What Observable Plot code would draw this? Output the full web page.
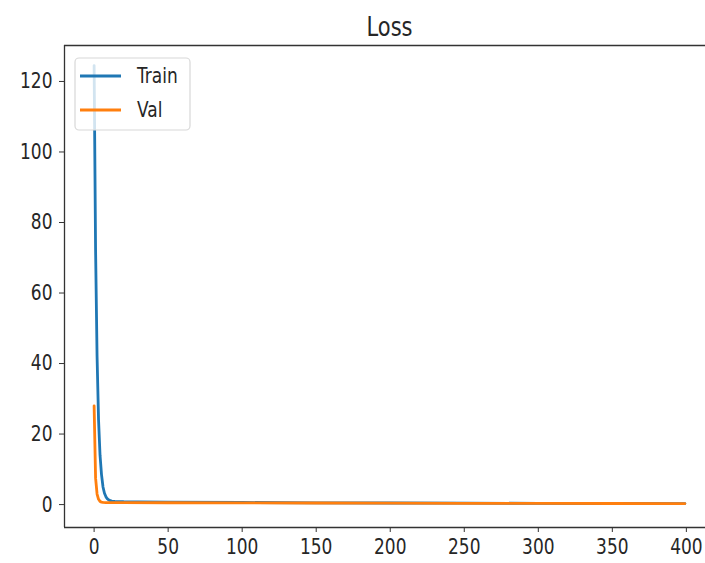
<!DOCTYPE html>
<html>
<head>
<meta charset="utf-8">
<script src="https://cdn.jsdelivr.net/npm/d3@7"></script>
<script src="https://cdn.jsdelivr.net/npm/@observablehq/plot@0.6"></script>
<style>
  html, body { margin: 0; padding: 0; background: #fff; overflow: hidden; width: 705px; height: 563px; }
  #chart { width: 705px; height: 563px; overflow: hidden; }
  #chart svg { max-width: none !important; display: block; }
</style>
</head>
<body>
<div id="chart"></div>
<script>
// ---- data ----
const title = "Loss";
const seriesNames = ["Train", "Val"];
const seriesColors = ["#1f77b4", "#ff7f0e"];

const trainEpochs = [0, 1, 2, 3, 4, 5, 6, 7, 8, 9, 10, 11, 12, 14, 17, 20, 30, 50, 100, 150, 200, 250, 300, 350, 399];
const trainLoss   = [124.5, 72, 42, 24, 14, 8.5, 5, 3.2, 2.2, 1.6, 1.3, 1.1, 1.0, 0.9, 0.85, 0.8, 0.75, 0.7, 0.6, 0.5, 0.45, 0.4, 0.35, 0.3, 0.28];

const valEpochs = [0, 1, 2, 3, 4, 5, 6, 8, 10, 20, 50, 100, 150, 200, 250, 300, 350, 399];
const valLoss   = [28, 7.5, 3, 1.5, 0.9, 0.7, 0.6, 0.55, 0.55, 0.55, 0.52, 0.5, 0.45, 0.4, 0.35, 0.32, 0.3, 0.28];

const xTicks = [0, 50, 100, 150, 200, 250, 300, 350, 400];
const yTicks = [0, 20, 40, 60, 80, 100, 120];
const xDomain = [-20, 419];
const yDomain = [-6.5, 130.2];

// ---- build tables ----
const train = trainEpochs.map((e, i) => ({epoch: e, loss: trainLoss[i], series: "Train"}));
const val = valEpochs.map((e, i) => ({epoch: e, loss: valLoss[i], series: "Val"}));

const FONT = "DejaVu Sans";
const TEXT = "#262626";

const chart = Plot.plot({
  width: 705,
  height: 563,
  marginLeft: 64,
  marginRight: -9,
  marginTop: 45,
  marginBottom: 36,
  style: {fontFamily: FONT, fontSize: "17px", color: TEXT, background: "#fff", overflow: "hidden", maxWidth: "none"},
  x: {domain: xDomain, ticks: xTicks, label: null},
  y: {domain: yDomain, ticks: yTicks, label: null},
  marks: [
    // axes spines (left, bottom, top; the right one lies outside the picture)
    Plot.ruleX([xDomain[0]], {stroke: "#333", strokeWidth: 1.3}),
    Plot.ruleY([yDomain[0]], {stroke: "#333", strokeWidth: 1.3}),
    Plot.ruleY([yDomain[1]], {stroke: "#333", strokeWidth: 1.3}),
    Plot.line(train, {x: "epoch", y: "loss", stroke: seriesColors[0], strokeWidth: 2.8}),
    Plot.line(val, {x: "epoch", y: "loss", stroke: seriesColors[1], strokeWidth: 2.8}),
    Plot.axisX({ticks: xTicks, tickSize: 5, tickPadding: 8, stroke: "#333", fontSize: 17, label: null}),
    Plot.axisY({ticks: yTicks, tickSize: 5, tickPadding: 7, stroke: "#333", fontSize: 17, label: null}),
    Plot.text([title], {frameAnchor: "top", dy: -26, fontSize: 21, fill: TEXT})
  ]
});

// ---- legend (in-axes, upper left) ----
const svg = d3.select(chart);
const lg = svg.append("g").attr("class", "legend");
lg.append("rect")
  .attr("x", 75).attr("y", 58).attr("width", 115).attr("height", 72)
  .attr("rx", 4).attr("fill", "#fff").attr("fill-opacity", 0.8)
  .attr("stroke", "#d8d8d8").attr("stroke-width", 1.2);
seriesNames.forEach((name, i) => {
  const cy = 76 + i * 34;
  lg.append("line")
    .attr("x1", 80).attr("x2", 121).attr("y1", cy).attr("y2", cy)
    .attr("stroke", seriesColors[i]).attr("stroke-width", 2.8);
  lg.append("text")
    .attr("x", 137).attr("y", cy).attr("dy", "0.35em")
    .attr("text-anchor", "start")
    .attr("fill", TEXT).attr("font-family", FONT).attr("font-size", 17)
    .text(name);
});

document.getElementById("chart").appendChild(chart);

// vertical stretch of the text (about each label's own centre) to match the reference's aspect
svg.selectAll("text").each(function () {
  const b = this.getBBox();
  const cx = b.x + b.width / 2, cy = b.y + b.height / 2;
  const t = this.getAttribute("transform") || "";
  this.setAttribute("transform", `${t} translate(${cx},${cy}) scale(1,1.25) translate(${-cx},${-cy})`);
});
</script>
</body>
</html>
